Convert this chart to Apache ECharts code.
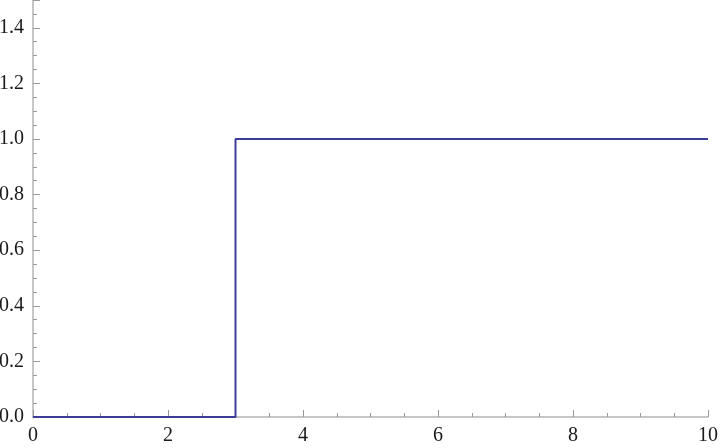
<!DOCTYPE html>
<html>
<head>
<meta charset="utf-8">
<style>
html, body { margin: 0; padding: 0; background: #fff; }
#chart { width: 720px; height: 448px; }
</style>
<script src="https://cdn.jsdelivr.net/npm/echarts@6/dist/echarts.min.js"></script>
</head>
<body>
<div id="chart"></div>
<script>
// step function: 0 before x = 3, 1 after
var stepX = [0, 3, 3, 10];
var stepY = [0, 0, 1, 1];
var xTicks = [0, 2, 4, 6, 8, 10];
var yTicks = [0, 0.2, 0.4, 0.6, 0.8, 1.0, 1.2, 1.4];

var points = stepX.map(function (x, i) { return [x, stepY[i]]; });

var axisGrey = '#b4b4b4';
var tickGrey = '#999';
var labelFont = { fontFamily: '"Liberation Serif", "Times New Roman", serif', fontSize: 20, color: '#1a1a1a' };

var chart = echarts.init(document.getElementById('chart'));
chart.setOption({
    animation: false,
    grid: { left: 33, right: 12, top: 0, bottom: 31, containLabel: false, outerBoundsMode: 'none' },
    xAxis: {
        type: 'value',
        min: 0,
        max: 10,
        interval: 2,
        axisLine: { show: true, lineStyle: { color: axisGrey, width: 1.5 } },
        axisTick: { show: true, inside: true, length: 7, lineStyle: { color: tickGrey } },
        minorTick: { show: true, splitNumber: 4, length: 4, lineStyle: { color: tickGrey } },
        splitLine: { show: false },
        axisLabel: Object.assign({ margin: 9, formatter: function (v) {
            return xTicks.indexOf(v) >= 0 ? String(v) : '';
        } }, labelFont)
    },
    yAxis: [{
        type: 'value',
        min: 0,
        max: 1.5,
        interval: 0.2,
        axisLine: { show: true, lineStyle: { color: axisGrey, width: 1.5 } },
        axisTick: { show: true, inside: true, length: 7, lineStyle: { color: tickGrey } },
        splitLine: { show: false },
        axisLabel: Object.assign({ margin: 9, formatter: function (v) {
            var hit = yTicks.some(function (t) { return Math.abs(t - v) < 1e-9; });
            return hit ? v.toFixed(1) : '';
        } }, labelFont)
    }, {
        // short ticks every 0.05
        type: 'value',
        position: 'left',
        min: 0,
        max: 1.5,
        interval: 0.05,
        axisLine: { show: false },
        axisTick: { show: true, inside: true, length: 4, lineStyle: { color: tickGrey } },
        splitLine: { show: false },
        axisLabel: { show: false }
    }],
    series: [{
        type: 'line',
        data: points,
        symbol: 'none',
        lineStyle: { color: '#3d3d99', width: 2 },
        z: 3
    }]
});
</script>
</body>
</html>
